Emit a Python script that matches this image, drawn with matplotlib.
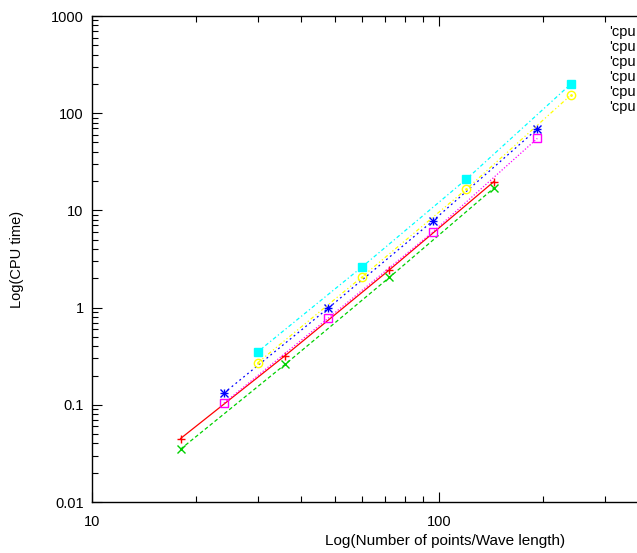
import matplotlib
matplotlib.use("Agg")
import matplotlib.pyplot as plt
from matplotlib.ticker import LogLocator, FixedLocator, NullFormatter

plt.rcParams['font.family'] = ['Liberation Sans', 'DejaVu Sans']

# points per wave length used by each run
x_a = [18, 36, 72, 144]
x_b = [24, 48, 96, 192]
x_c = [30, 60, 120, 240]

# cpu time
cpu1 = [0.045, 0.32, 2.45, 19.8]
cpu2 = [0.035, 0.26, 2.05, 17.0]
cpu3 = [0.132, 0.99, 7.8, 69.0]
cpu4 = [0.104, 0.78, 6.0, 55.0]
cpu5 = [0.35, 2.62, 21.0, 200.0]
cpu6 = [0.27, 2.07, 16.6, 154.0]

legend_labels = ["'cpu", "'cpu", "'cpu", "'cpu", "'cpu", "'cpu"]

x_ticks = [10, 100, 1000]
x_tick_labels = ['10', '100', '']   # 1000 lies outside the cropped picture
y_ticks = [0.01, 0.1, 1, 10, 100, 1000]
y_tick_labels = ['0.01', '0.1', '1', '10', '100', '1000']

W, H = 637, 553
fig = plt.figure(figsize=(W / 100, H / 100), dpi=100)
left, right, top, bottom = 92, 786, 16, 502
ax = fig.add_axes([left / W, 1 - bottom / H, (right - left) / W, (bottom - top) / H])

series = [
    (x_a, cpu1, '#ff0000', '-', ['+']),
    (x_a, cpu2, '#00d000', (0, (3, 2)), ['x']),
    (x_b, cpu3, '#0000ff', (0, (1.5, 2.5)), ['+', 'x']),
    (x_b, cpu4, '#ff00ff', (0, (1, 1.5)), ['s_open']),
    (x_c, cpu5, '#00ffff', (0, (3, 2, 1, 2)), ['s']),
    (x_c, cpu6, '#ffff00', (0, (3, 2, 1, 2, 1, 2)), ['o_open', '.']),
]

for xs, ys, col, ls, marks in series:
    ax.plot(xs, ys, color=col, linestyle=ls, linewidth=0.9)
    for mk in marks:
        kw = dict(color=col, linestyle='none', markersize=6, markeredgewidth=1.0)
        if mk.endswith('_open'):
            mk = mk[0]
            kw['markerfacecolor'] = 'none'
        if mk == '.':
            kw['markersize'] = 2
        ax.plot(xs, ys, marker=mk, **kw)

ax.set_xscale('log')
ax.set_yscale('log')
ax.set_xlim(10, 1000)
ax.set_ylim(0.01, 1000)

ax.xaxis.set_major_locator(FixedLocator(x_ticks))
ax.yaxis.set_major_locator(FixedLocator(y_ticks))
ax.xaxis.set_minor_locator(LogLocator(base=10, subs=range(2, 10)))
ax.yaxis.set_minor_locator(LogLocator(base=10, subs=range(2, 10)))
ax.xaxis.set_minor_formatter(NullFormatter())
ax.yaxis.set_minor_formatter(NullFormatter())
ax.set_xticklabels(x_tick_labels)
ax.set_yticklabels(y_tick_labels)

ax.tick_params(which='both', direction='in', top=True, right=True, labelsize=10.5,
               width=0.8, colors='black')
ax.tick_params(which='major', length=7, pad=6)
ax.tick_params(which='minor', length=4)
ax.tick_params(axis='x', which='major', pad=9)
for s in ax.spines.values():
    s.set_linewidth(1.0)

fig.text(445 / W, 1 - 541 / H, 'Log(Number of points/Wave length)', ha='center', va='center',
         fontsize=11)
fig.text(17 / W, 1 - 259 / H, 'Log(CPU time)', ha='center', va='center', rotation=90,
         fontsize=10.5)

for i, lab in enumerate(legend_labels):
    fig.text(609 / W, 1 - (32 + 15 * i) / H, lab, ha='left', va='center', fontsize=10.5)

fig.savefig('out.png', dpi=100)
